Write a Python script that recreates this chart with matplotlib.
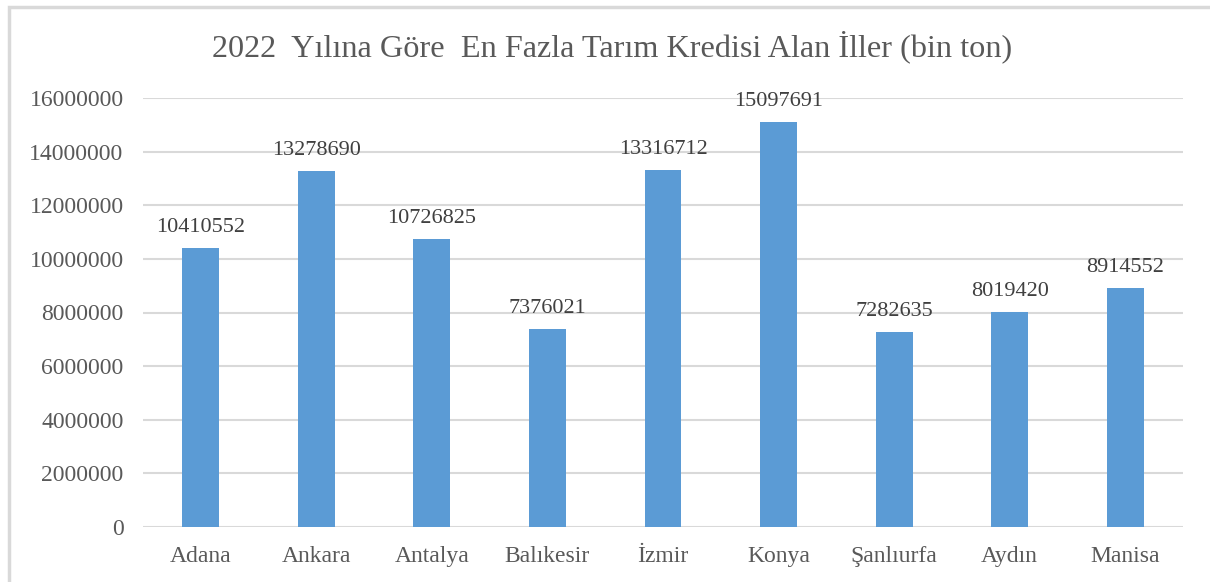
import matplotlib
matplotlib.use("Agg")
import matplotlib.pyplot as plt
from matplotlib.patches import Rectangle

categories = ["Adana", "Ankara", "Antalya", "Balıkesir", "İzmir", "Konya", "Şanlıurfa", "Aydın", "Manisa"]
values = [10410552, 13278690, 10726825, 7376021, 13316712, 15097691, 7282635, 8019420, 8914552]
yticks = [0, 2000000, 4000000, 6000000, 8000000, 10000000, 12000000, 14000000, 16000000]
title = "2022  Yılına Göre  En Fazla Tarım Kredisi Alan İller (bin ton)"

plt.rcParams['font.family'] = ['Liberation Serif', 'DejaVu Serif']
text_color = "#595959"
grid_color = "#D9D9D9"
bar_color = "#5B9BD5"

fig = plt.figure(figsize=(12.1, 5.82), dpi=100)
ax = fig.add_axes([143/1210, 1-527/582, (1183-143)/1210, (527-98)/582])

x = list(range(len(categories)))
ax.bar(x, values, width=0.32, color=bar_color, zorder=3)
ax.set_xlim(-0.5, len(categories)-0.5)
ax.set_ylim(0, 16000000)
ax.set_yticks(yticks)
ax.set_yticklabels([str(v) for v in yticks], fontsize=17, color=text_color)
ax.set_xticks(x)
ax.set_xticklabels(categories, fontsize=17, color=text_color)
ax.tick_params(axis='both', length=0)
ax.tick_params(axis='y', pad=14)
ax.tick_params(axis='x', pad=14)
for s in ax.spines.values():
    s.set_visible(False)
ax.grid(axis='y', color=grid_color, linewidth=1.5, zorder=0)

for xi, v in zip(x, values):
    ax.annotate(str(v), (xi, v), xytext=(0, 8), textcoords='offset points',
                ha='center', va='bottom', fontsize=16, color="#404040")

fig.text(612/1210, 1-47/582, title, ha='center', va='center', fontsize=23.2, color=text_color)

fig.patches.append(Rectangle((9/1210, -0.1), 1.2, 1-7/582+0.1, transform=fig.transFigure,
                             fill=False, edgecolor="#D9D9D9", linewidth=2.5))

fig.savefig("out.png", dpi=100)
